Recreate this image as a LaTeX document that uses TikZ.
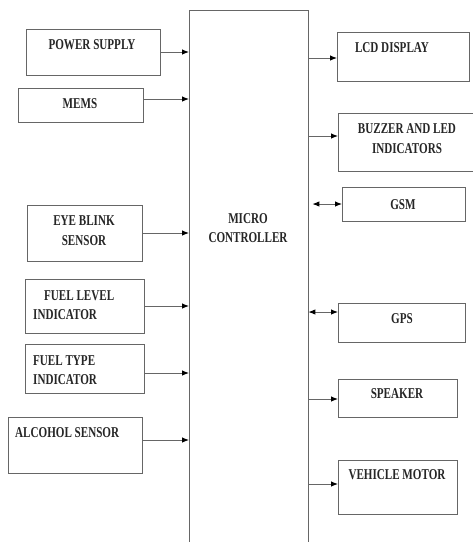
\documentclass[tikz,border=0pt]{standalone}
\usepackage{fontspec}
\setmainfont[FakeStretch=0.74]{Liberation Serif}
\usetikzlibrary{arrows.meta}
\begin{document}
\begin{tikzpicture}[x=1pt,y=-1pt,
  box/.style={draw=black!60,line width=0.9pt,inner sep=0pt,anchor=north west},
  txt/.style={inner sep=0pt,font=\fontsize{15}{19}\selectfont\bfseries,text=black!85,text height=10pt,text depth=0pt},
  arr/.style={draw=black!60,line width=0.9pt,-{Latex[length=7pt,width=5.5pt,color=black]}},
  barr/.style={draw=black!60,line width=0.9pt,{Latex[length=7pt,width=5.5pt,color=black]}-{Latex[length=7pt,width=5.5pt,color=black]}}]
\useasboundingbox[fill=white] (0,0) rectangle (473,542);
% microcontroller
\node[inner sep=0pt,anchor=north west,minimum width=119pt,minimum height=532pt] (mc) at (189,10) {};
\draw[draw=black!60,line width=0.9pt] (mc.south west) -- (mc.north west) -- (mc.north east) -- (mc.south east);
\node[txt] (mct1) at (248,218) {MICRO};
\node[txt] (mct2) at (248,237) {CONTROLLER};
% left boxes
\node[box,minimum width=134pt,minimum height=46pt] (ps) at (26,29) {};
\node[txt] (pst) at (92,44) {POWER SUPPLY};
\node[box,minimum width=125pt,minimum height=34pt] (ms) at (18,88) {};
\node[txt] (mst) at (80,103) {MEMS};
\node[box,minimum width=115pt,minimum height=56pt] (eb) at (27,205) {};
\node[txt] (ebt1) at (84,220) {EYE BLINK};
\node[txt] (ebt2) at (84,240) {SENSOR};
\node[box,minimum width=119pt,minimum height=54pt] (fl) at (25,279) {};
\node[txt,anchor=west] (flt1) at (44,295) {FUEL LEVEL};
\node[txt,anchor=west] (flt2) at (33,314) {INDICATOR};
\node[box,minimum width=119pt,minimum height=49pt] (ft) at (25,344) {};
\node[txt,anchor=west] (ftt1) at (33,360) {FUEL TYPE};
\node[txt,anchor=west] (ftt2) at (33,379) {INDICATOR};
\node[box,minimum width=134pt,minimum height=56pt] (al) at (8,417) {};
\node[txt,anchor=west] (alt) at (15,432) {ALCOHOL SENSOR};
% right boxes
\node[box,minimum width=132pt,minimum height=49pt] (lcd) at (337,32) {};
\node[txt] (lcdt) at (392,47) {LCD DISPLAY};
\node[box,minimum width=136pt,minimum height=58pt] (bz) at (338,113) {};
\node[txt] (bzt1) at (407,128) {BUZZER AND LED};
\node[txt] (bzt2) at (407,148) {INDICATORS};
\node[box,minimum width=123pt,minimum height=34pt] (gsm) at (342,187) {};
\node[txt] (gsmt) at (403,204) {GSM};
\node[box,minimum width=127pt,minimum height=39pt] (gps) at (338,303) {};
\node[txt] (gpst) at (402,318) {GPS};
\node[box,minimum width=119pt,minimum height=38pt] (sp) at (338,379) {};
\node[txt] (spt) at (397,393) {SPEAKER};
\node[box,minimum width=119pt,minimum height=54pt] (vm) at (338,460) {};
\node[txt] (vmt) at (397,474) {VEHICLE MOTOR};
% connectors left
\draw[arr] (ps.east |- 0,52) -- (mc.west |- 0,52);
\draw[arr] (ms.east |- 0,99) -- (mc.west |- 0,99);
\draw[arr] (eb.east |- 0,233) -- (mc.west |- 0,233);
\draw[arr] (fl.east |- 0,306) -- (mc.west |- 0,306);
\draw[arr] (ft.east |- 0,373) -- (mc.west |- 0,373);
\draw[arr] (al.east |- 0,440) -- (mc.west |- 0,440);
% connectors right
\draw[arr] (mc.east |- 0,58) -- (lcd.west |- 0,58);
\draw[arr] (mc.east |- 0,136) -- (bz.west |- 0,136);
\draw[barr] ([xshift=4pt]mc.east |- 0,204) -- (gsm.west |- 0,204);
\draw[barr] (mc.east |- 0,312) -- (gps.west |- 0,312);
\draw[arr] (mc.east |- 0,399) -- (sp.west |- 0,399);
\draw[arr] (mc.east |- 0,484) -- (vm.west |- 0,484);
\end{tikzpicture}
\end{document}
